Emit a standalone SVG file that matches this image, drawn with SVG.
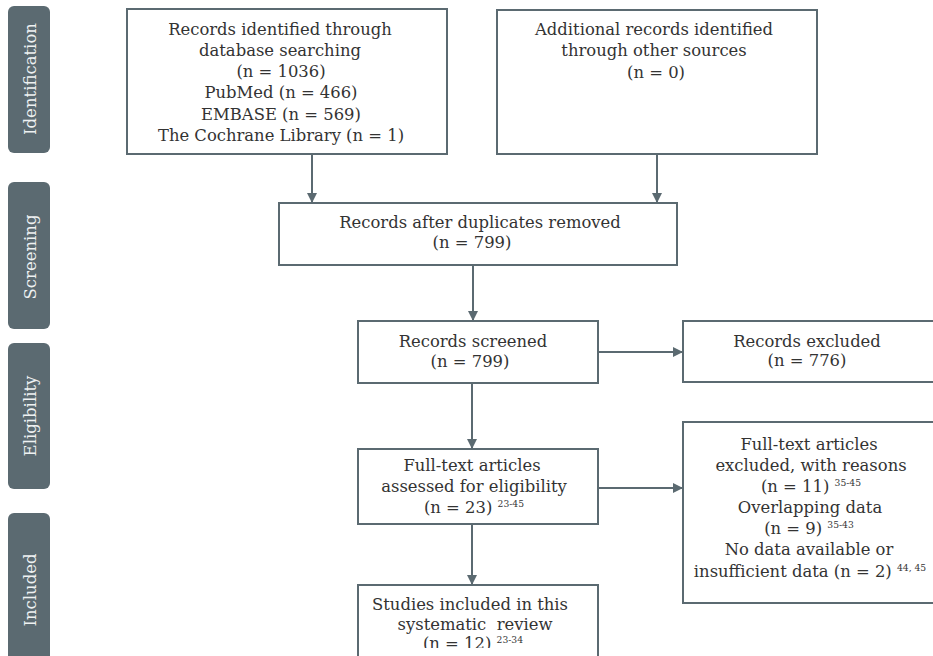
<svg xmlns="http://www.w3.org/2000/svg" width="933" height="656" viewBox="0 0 933 656">
<style>
.bar{fill:#5b6a71}
.bl{fill:#eef1f2;font-family:"DejaVu Serif","Liberation Serif",serif;font-size:16.5px;text-anchor:middle}
.box{fill:#fff;stroke:#5b6a71;stroke-width:2}
.t{fill:#333;font-family:"DejaVu Serif","Liberation Serif",serif;font-size:16.4px;text-anchor:middle}
.sup{font-size:9.2px}
.con{stroke:#5b6a71;stroke-width:2;fill:none;marker-end:url(#ah)}
</style>
<defs>
<marker id="ah" viewBox="0 0 10 10" refX="10" refY="5" markerWidth="10" markerHeight="10" markerUnits="userSpaceOnUse" orient="auto">
<path d="M0,0 L10,5 L0,10 z" fill="#5b6a71"/>
</marker>
<clipPath id="clip8"><rect x="350" y="580" width="260" height="68"/></clipPath>
</defs>
<rect width="933" height="656" fill="#fff"/>
<g id="stages">
<g id="stage-identification"><rect class="bar" x="8" y="6" width="42" height="147" rx="6"/><text class="bl" transform="translate(36,79) rotate(-90)">Identification</text></g>
<g id="stage-screening"><rect class="bar" x="8" y="182" width="42" height="147" rx="6"/><text class="bl" transform="translate(36,257) rotate(-90)">Screening</text></g>
<g id="stage-eligibility"><rect class="bar" x="8" y="343" width="42" height="146" rx="6"/><text class="bl" transform="translate(36,416) rotate(-90)">Eligibility</text></g>
<g id="stage-included"><rect class="bar" x="8" y="513" width="42" height="160" rx="6"/><text class="bl" transform="translate(36,590) rotate(-90)">Included</text></g>
</g>
<g id="connectors">
<line class="con" x1="312" y1="154" x2="312" y2="203"/>
<line class="con" x1="657" y1="154" x2="657" y2="203"/>
<line class="con" x1="473" y1="265" x2="473" y2="321"/>
<line class="con" x1="598" y1="352" x2="683" y2="352"/>
<line class="con" x1="472" y1="383" x2="472" y2="449"/>
<line class="con" x1="598" y1="488" x2="683" y2="488"/>
<line class="con" x1="472" y1="524" x2="472" y2="585"/>
</g>
<g id="n-database">
<rect class="box" x="127" y="9" width="320" height="145"/>
<text class="t" x="280" y="35">Records identified through</text>
<text class="t" x="280" y="56">database searching</text>
<text class="t" x="281" y="77">(n = 1036)</text>
<text class="t" x="281" y="98">PubMed (n = 466)</text>
<text class="t" x="281" y="120">EMBASE (n = 569)</text>
<text class="t" x="281" y="141">The Cochrane Library (n = 1)</text>
</g>
<g id="n-other">
<rect class="box" x="497" y="10" width="320" height="144"/>
<text class="t" x="654" y="35">Additional records identified</text>
<text class="t" x="654" y="56">through other sources</text>
<text class="t" x="656" y="78">(n = 0)</text>
</g>
<g id="n-dup">
<rect class="box" x="279" y="203" width="398" height="62"/>
<text class="t" x="480" y="228">Records after duplicates removed</text>
<text class="t" x="472" y="248">(n = 799)</text>
</g>
<g id="n-screened">
<rect class="box" x="358" y="321" width="240" height="62"/>
<text class="t" x="473" y="347">Records screened</text>
<text class="t" x="470" y="367">(n = 799)</text>
</g>
<g id="n-excluded">
<rect class="box" x="683" y="321" width="260" height="61"/>
<text class="t" x="807" y="347">Records excluded</text>
<text class="t" x="807" y="366">(n = 776)</text>
</g>
<g id="n-fulltext">
<rect class="box" x="358" y="449" width="240" height="75"/>
<text class="t" x="472" y="471">Full-text articles</text>
<text class="t" x="474" y="492">assessed for eligibility</text>
<text class="t" x="474" y="513">(n = 23) <tspan class="sup" dy="-6.5">23-45</tspan></text>
</g>
<g id="n-ftexcluded">
<rect class="box" x="683" y="422" width="260" height="181"/>
<text class="t" x="809" y="450">Full-text articles</text>
<text class="t" x="811" y="471">excluded, with reasons</text>
<text class="t" x="811" y="492">(n = 11) <tspan class="sup" dy="-6.5">35-45</tspan></text>
<text class="t" x="810" y="513">Overlapping data</text>
<text class="t" x="809" y="534">(n = 9) <tspan class="sup" dy="-6.5">35-43</tspan></text>
<text class="t" x="809" y="555">No data available or</text>
<text class="t" x="810" y="577">insufficient data (n = 2) <tspan class="sup" dy="-6.5">44, 45</tspan></text>
</g>
<g id="n-included">
<rect class="box" x="358" y="585" width="240" height="90"/>
<g clip-path="url(#clip8)">
<text class="t" x="470" y="610">Studies included in this</text>
<text class="t" x="475" y="630">systematic&#160;&#160;review</text>
<text class="t" x="473" y="649">(n = 12) <tspan class="sup" dy="-6.5">23-34</tspan></text>
</g>
</g>
</svg>
